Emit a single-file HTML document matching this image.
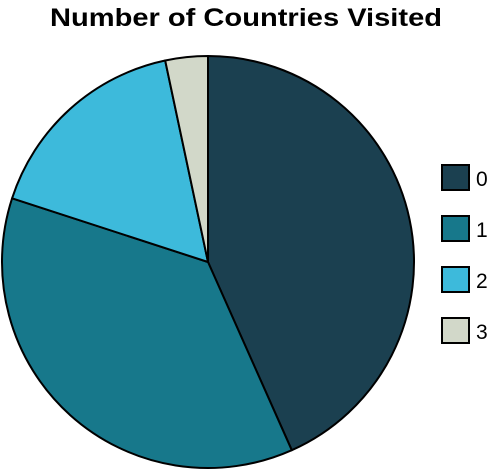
<!DOCTYPE html>
<html><head><meta charset="utf-8"><style>
html,body{margin:0;padding:0;background:#fff;width:490px;height:471px;overflow:hidden}
text{font-family:"Liberation Sans",sans-serif}
</style></head><body>
<svg width="490" height="471" viewBox="0 0 490 471">
<text x="50" y="26" textLength="392" lengthAdjust="spacingAndGlyphs" font-size="25" font-weight="bold" fill="#000">Number of Countries Visited</text>
<g id="slices"></g>
<g id="legend"></g>
</svg>
<script>
const categories = ["0","1","2","3"];
const values = [13, 11, 5, 1];
const colors = ["#1b4050","#17788b","#3dbadb","#d2d8c9"];
const cx = 208, cy = 262, r = 206;
const ns = "http://www.w3.org/2000/svg";
const total = values.reduce((a,b)=>a+b,0);
const g = document.getElementById("slices");
function pt(a){ return [cx + r*Math.sin(a), cy - r*Math.cos(a)]; }
let a0 = 0;
values.forEach((v,i)=>{
  const a1 = a0 + v/total*2*Math.PI;
  const p0 = pt(a0), p1 = pt(a1);
  const large = (a1-a0) > Math.PI ? 1 : 0;
  const path = document.createElementNS(ns,"path");
  path.setAttribute("d",`M${cx},${cy} L${p0[0]},${p0[1]} A${r},${r} 0 ${large} 1 ${p1[0]},${p1[1]} Z`);
  path.setAttribute("fill",colors[i]);
  path.setAttribute("stroke","#000");
  path.setAttribute("stroke-width","2");
  path.setAttribute("stroke-linejoin","round");
  
  
  g.appendChild(path);
  a0 = a1;
});
const lg = document.getElementById("legend");
categories.forEach((c,i)=>{
  const y = 165 + i*51;
  const rect = document.createElementNS(ns,"rect");
  rect.setAttribute("x",442); rect.setAttribute("y",y);
  rect.setAttribute("width",27); rect.setAttribute("height",25);
  rect.setAttribute("fill",colors[i]); rect.setAttribute("stroke","#000"); rect.setAttribute("stroke-width","2");
  
  
  lg.appendChild(rect);
  const t = document.createElementNS(ns,"text");
  t.setAttribute("x",476); t.setAttribute("y",y+21);
  t.setAttribute("font-size","21"); t.setAttribute("fill","#000");
  t.textContent = c;
  
  
  lg.appendChild(t);
});
</script>
</body></html>
